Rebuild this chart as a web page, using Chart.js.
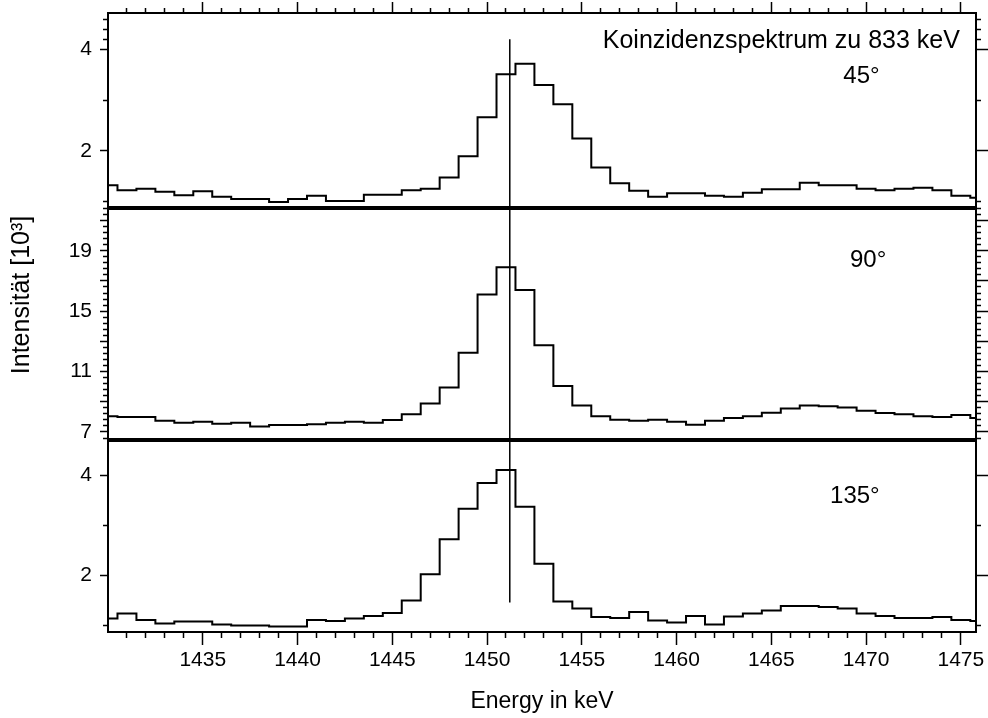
<!DOCTYPE html>
<html lang="de">
<head>
<meta charset="UTF-8">
<title>Koinzidenzspektrum zu 833 keV</title>
<style>
    html, body { margin: 0; padding: 0; background: #fff; }
    canvas { display: block; }
</style>
</head>
<body>
<canvas id="spectrum" width="988" height="718"></canvas>

<script src="https://cdn.jsdelivr.net/npm/chart.js@4"></script>
<script>
    // channel centres in keV (1 keV bins)
    const energies = [
        1430, 1431, 1432, 1433, 1434, 1435, 1436, 1437, 1438, 1439,
        1440, 1441, 1442, 1443, 1444, 1445, 1446, 1447, 1448, 1449,
        1450, 1451, 1452, 1453, 1454, 1455, 1456, 1457, 1458, 1459,
        1460, 1461, 1462, 1463, 1464, 1465, 1466, 1467, 1468, 1469,
        1470, 1471, 1472, 1473, 1474, 1475, 1476
    ];

    // counts in 10^3
    const counts45 = [
        1.32, 1.22, 1.25, 1.19, 1.12, 1.20, 1.09, 1.05, 1.05, 0.99,
        1.05, 1.11, 1.01, 1.01, 1.13, 1.13, 1.22, 1.25, 1.47, 1.89,
        2.66, 3.51, 3.72, 3.30, 2.92, 2.24, 1.67, 1.36, 1.21, 1.09,
        1.16, 1.16, 1.11, 1.09, 1.17, 1.24, 1.24, 1.37, 1.32, 1.32,
        1.25, 1.22, 1.25, 1.27, 1.22, 1.11, 1.07
    ];
    const counts90 = [
        8.05, 7.99, 7.99, 7.74, 7.61, 7.68, 7.54, 7.61, 7.37, 7.46,
        7.46, 7.52, 7.61, 7.68, 7.61, 7.79, 8.17, 8.89, 9.95, 12.25,
        16.11, 17.90, 16.40, 12.75, 10.04, 8.76, 8.05, 7.81, 7.74, 7.81,
        7.68, 7.48, 7.74, 7.92, 8.05, 8.27, 8.56, 8.76, 8.70, 8.63,
        8.40, 8.25, 8.17, 8.05, 7.99, 8.12, 7.92
    ];
    const counts135 = [
        1.13, 1.23, 1.10, 1.03, 1.07, 1.07, 1.01, 0.99, 0.99, 0.97,
        0.97, 1.10, 1.08, 1.13, 1.18, 1.24, 1.49, 2.02, 2.72, 3.33,
        3.85, 4.11, 3.37, 2.23, 1.47, 1.33, 1.16, 1.14, 1.26, 1.09,
        1.05, 1.18, 1.01, 1.17, 1.23, 1.29, 1.38, 1.38, 1.36, 1.33,
        1.23, 1.18, 1.14, 1.14, 1.16, 1.10, 1.08
    ];

    // axis ranges
    const xRange = [1430, 1475.8];
    const range45 = [0.87, 4.72];
    const range90 = [6.47, 21.83];
    const range135 = [0.86, 4.71];

    // tick labels
    const xTickLabels = [1435, 1440, 1445, 1450, 1455, 1460, 1465, 1470, 1475];
    const labels45 = [2, 4];
    const labels90 = [7, 11, 15, 19];
    const labels135 = [2, 4];

    // vertical marker at the line position
    const markerEnergy = 1451.2;
    const markerTop45 = 4.2;
    const markerBottom135 = 1.45;

    // texts in the panels
    const headline = 'Koinzidenzspektrum zu 833 keV';
    const headlinePos = [1474.95, 4.03];
    const angleLabels = ['45°', '90°', '135°'];
    const angleX = [1468.8, 1469.15, 1468.1];
    const angleY = [3.34, 17.92, 3.45];
    const angleAxis = ['y1', 'y2', 'y3'];
    const yTitle = 'Intensität [10³]';

    const FONT = '"Liberation Sans", Arial, sans-serif';

    // tick marks: majors long, minors short (dash trick)
    function axisTicks(majors, minors) {
        return majors.map(v => ({ value: v, minor: false }))
            .concat(minors.map(v => ({ value: v, minor: true })))
            .sort((a, b) => a.value - b.value);
    }
    const xMinor = energies.filter(e => e % 5 !== 0 && e < xRange[1]);
    const major90 = [7, 9, 11, 13, 15, 17, 19, 21];
    const minor90 = [];
    for (let k = -1; k <= 37; k++) {
        if (k % 5 !== 0) minor90.push(+(7 + 0.4 * k).toFixed(1));
    }
    const ticks45 = axisTicks([2, 4], [1, 3, 4.2, 4.4, 4.6]);
    const ticks90 = axisTicks(major90, minor90);
    const ticks135 = axisTicks([2, 4], [1, 3]);
    const ticksX = axisTicks(xTickLabels, xMinor);

    // no extra room for overflowing labels, the frame is fixed
    function noPadding(s) {
        s.paddingTop = 0;
        s.paddingBottom = 0;
        s.paddingLeft = 0;
        s.paddingRight = 0;
    }

    function histo(values, axisId) {
        return {
            data: energies.map((e, i) => ({ x: e, y: values[i] })),
            yAxisID: axisId,
            borderColor: '#000',
            borderWidth: 2,
            stepped: 'middle',
            pointRadius: 0,
            fill: false
        };
    }

    function marker(axisId, from, to) {
        return {
            data: [{ x: markerEnergy, y: from }, { x: markerEnergy, y: to }],
            yAxisID: axisId,
            borderColor: '#000',
            borderWidth: 1.5,
            pointRadius: 0,
            fill: false
        };
    }

    function leftAxis(range, weight, ticks, labels) {
        return {
            type: 'linear', axis: 'y', position: 'left', stack: 'left', stackWeight: weight,
            min: range[0], max: range[1],
            afterBuildTicks: s => { s.ticks = ticks.map(t => ({ ...t })); },
            afterFit: s => { s.width = 108; noPadding(s); },
            ticks: {
                autoSkip: false, padding: 8, color: '#000',
                font: { family: FONT, size: 21 },
                callback: v => labels.includes(v) ? String(v) : ''
            },
            grid: {
                drawOnChartArea: false, tickLength: 8, tickWidth: 1.5, tickColor: '#000',
                tickBorderDash: c => (c.tick && c.tick.minor) ? [0, 3, 4, 100] : []
            },
            border: { color: '#000', width: 2 }
        };
    }

    function rightAxis(range, weight, ticks) {
        return {
            type: 'linear', axis: 'y', position: 'right', stack: 'right', stackWeight: weight,
            min: range[0], max: range[1],
            afterBuildTicks: s => { s.ticks = ticks.map(t => ({ ...t })); },
            afterFit: s => { s.width = 12; noPadding(s); },
            ticks: { display: false },
            grid: {
                drawOnChartArea: false, tickLength: 12, tickWidth: 1.5, tickColor: '#000',
                tickBorderDash: c => (c.tick && c.tick.minor) ? [4, 100] : []
            },
            border: { color: '#000', width: 2 }
        };
    }

    // separators, panel texts and the shared y title
    const panelDecor = {
        id: 'panelDecor',
        afterDraw(chart) {
            const { ctx, chartArea, scales } = chart;
            ctx.save();
            ctx.strokeStyle = '#000';
            ctx.lineWidth = 4;
            [scales.y2, scales.y3].forEach(s => {
                ctx.beginPath();
                ctx.moveTo(chartArea.left, s.top);
                ctx.lineTo(chartArea.right, s.top);
                ctx.stroke();
            });

            ctx.fillStyle = '#000';
            ctx.textBaseline = 'alphabetic';
            ctx.font = '25px ' + FONT;
            ctx.textAlign = 'right';
            ctx.fillText(headline, scales.x.getPixelForValue(headlinePos[0]), scales.y1.getPixelForValue(headlinePos[1]));
            ctx.font = '24px ' + FONT;
            ctx.textAlign = 'left';
            angleLabels.forEach((t, i) => {
                ctx.fillText(t, scales.x.getPixelForValue(angleX[i]), scales[angleAxis[i]].getPixelForValue(angleY[i]));
            });

            // y title sits a bit above the middle panel's centre
            ctx.translate(chartArea.left - 86, scales.y2.top + 87);
            ctx.rotate(-Math.PI / 2);
            ctx.font = '25px ' + FONT;
            ctx.textAlign = 'center';
            ctx.textBaseline = 'middle';
            ctx.fillText(yTitle, 0, 0);
            ctx.restore();
        }
    };

    new Chart(document.getElementById('spectrum'), {
        type: 'line',
        data: {
            datasets: [
                histo(counts45, 'y1'),
                histo(counts90, 'y2'),
                histo(counts135, 'y3'),
                marker('y1', markerTop45, range45[0]),
                marker('y2', range90[1], range90[0]),
                marker('y3', range135[1], markerBottom135)
            ]
        },
        options: {
            responsive: false,
            devicePixelRatio: 1,
            animation: false,
            events: [],
            layout: { padding: 0 },
            plugins: { legend: { display: false }, tooltip: { enabled: false } },
            scales: {
                x: {
                    type: 'linear', position: 'bottom', min: xRange[0], max: xRange[1],
                    afterBuildTicks: s => { s.ticks = ticksX.map(t => ({ ...t })); },
                    afterFit: s => { s.height = 86; noPadding(s); },
                    ticks: {
                        autoSkip: false, maxRotation: 0, padding: 3, color: '#000',
                        font: { family: FONT, size: 21 },
                        callback: v => xTickLabels.includes(v) ? String(v) : ''
                    },
                    grid: {
                        drawOnChartArea: false, tickLength: 13, tickWidth: 1.5, tickColor: '#000',
                        tickBorderDash: c => (c.tick && c.tick.minor) ? [5, 100] : []
                    },
                    border: { color: '#000', width: 2 },
                    title: {
                        display: true, text: 'Energy in keV', color: '#000',
                        font: { family: FONT, size: 23 }, padding: { top: 0, bottom: 3 }
                    }
                },
                x2: {
                    type: 'linear', axis: 'x', position: 'top', min: xRange[0], max: xRange[1],
                    afterBuildTicks: s => { s.ticks = ticksX.map(t => ({ ...t })); },
                    afterFit: s => { s.height = 13; noPadding(s); },
                    ticks: { display: false },
                    grid: {
                        drawOnChartArea: false, tickLength: 11, tickWidth: 1.5, tickColor: '#000',
                        tickBorderDash: c => (c.tick && c.tick.minor) ? [0, 6, 4, 100] : []
                    },
                    border: { color: '#000', width: 2 }
                },
                // left stack: last defined ends up on top
                y3: leftAxis(range135, 192, ticks135, labels135),
                y2: leftAxis(range90, 232, ticks90, labels90),
                y1: leftAxis(range45, 195, ticks45, labels45),
                r1: rightAxis(range45, 195, ticks45),
                r2: rightAxis(range90, 232, ticks90),
                r3: rightAxis(range135, 192, ticks135)
            }
        },
        plugins: [panelDecor]
    });
</script>
</body>
</html>
